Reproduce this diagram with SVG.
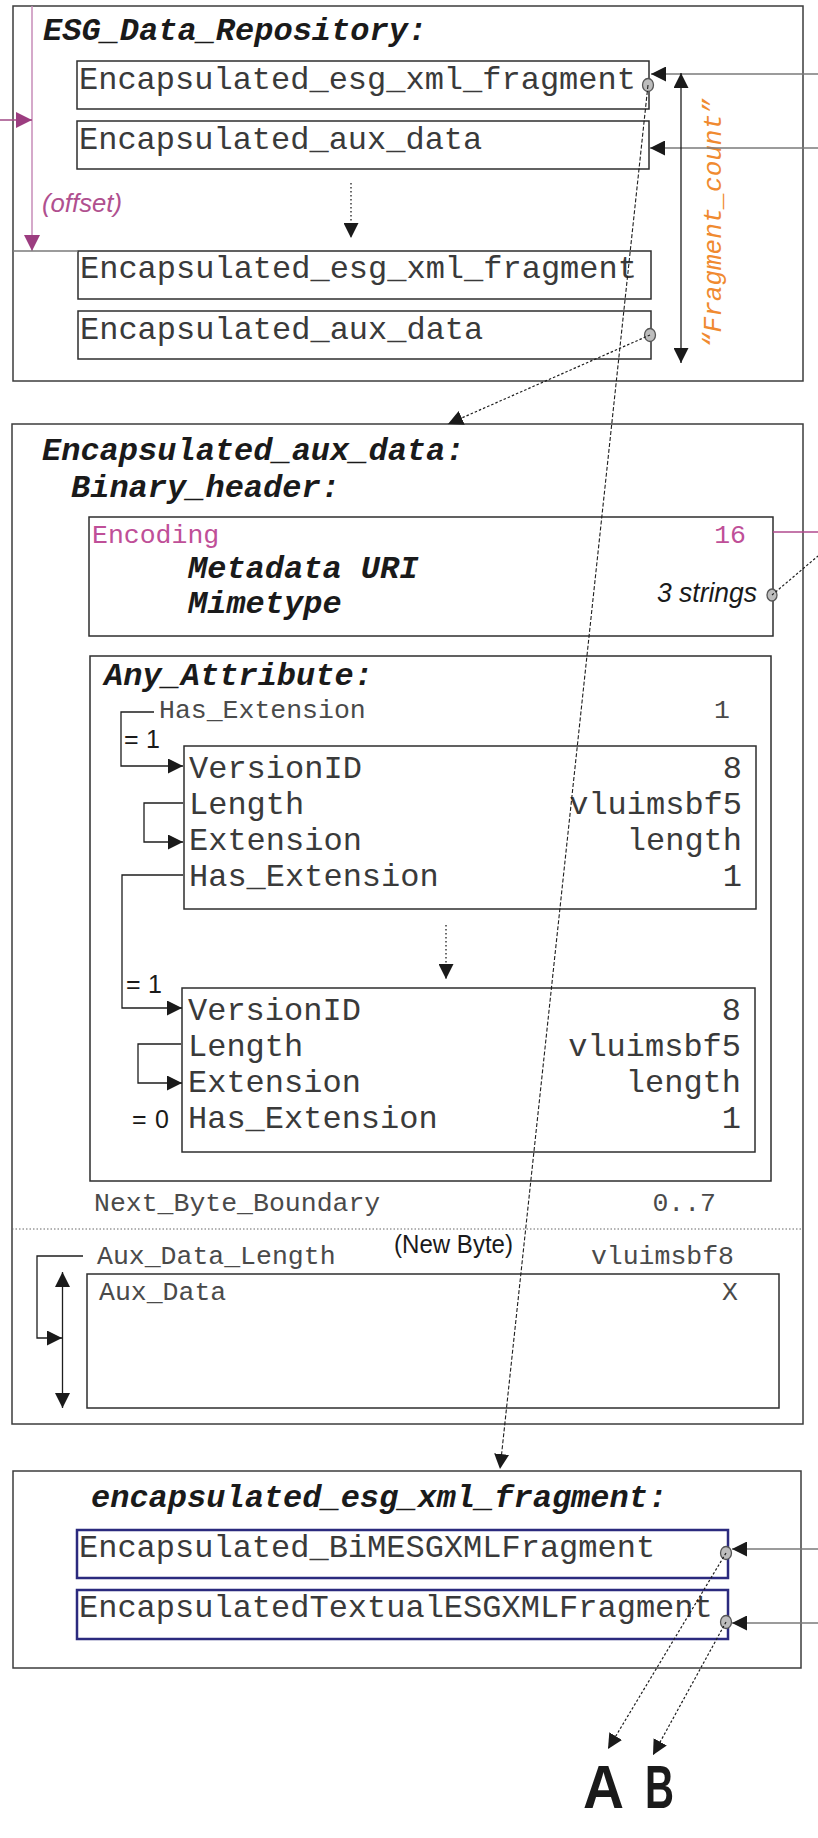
<svg xmlns="http://www.w3.org/2000/svg" width="818" height="1838" viewBox="0 0 818 1838">
<style>
.frame{fill:none;stroke:#3c3c3c;stroke-width:1.5}
.box{fill:none;stroke:#2e2e2e;stroke-width:1.5}
.navy{fill:none;stroke:#2b2a7e;stroke-width:2.5}
.title{font-family:"Liberation Mono","Courier New",monospace;font-weight:bold;font-style:italic;font-size:32px;fill:#1a1a1a}
.m32{font-family:"Liberation Mono","Courier New",monospace;font-size:32px;fill:#3a3a3a}
.m26{font-family:"Liberation Mono","Courier New",monospace;font-size:26.5px;fill:#4a4a4a}
.end{text-anchor:end}
.sans{font-family:"Liberation Sans",Arial,sans-serif;fill:#1a1a1a}
.eq{font-family:"Liberation Sans",Arial,sans-serif;fill:#1a1a1a;font-size:25px}
.purple{fill:#bf4f98}
.conn{fill:none;stroke:#1e1e1e;stroke-width:1.3}
.grey{fill:none;stroke:#7a7a7a;stroke-width:1.5}
.dot{fill:none;stroke:#1e1e1e;stroke-width:1.2;stroke-dasharray:2.5 2}
.dash{fill:none;stroke:#1e1e1e;stroke-width:1.1;stroke-dasharray:4 2}
.pin{fill:#bdbdbd;stroke:#555;stroke-width:1.3}
</style>
<defs>
<marker id="ah" viewBox="0 0 15 15" refX="15" refY="7.5" markerWidth="15" markerHeight="15" markerUnits="userSpaceOnUse" orient="auto-start-reverse">
<path d="M0,0 L15,7.5 L0,15 z" fill="#1a1a1a"/>
</marker>
<marker id="ahp" viewBox="0 0 16 16" refX="16" refY="8" markerWidth="16" markerHeight="16" markerUnits="userSpaceOnUse" orient="auto">
<path d="M0,0 L16,8 L0,16 z" fill="#9c3d80"/>
</marker>
</defs>

<g id="esg_data_repository">
<rect class="frame" x="13" y="6" width="790" height="375"/>
<text class="title" x="43" y="40">ESG_Data_Repository:</text>
<text x="42" y="212" font-family="Liberation Sans,Arial,sans-serif" font-style="italic" font-size="25" fill="#b0508f" textLength="80" lengthAdjust="spacingAndGlyphs">(offset)</text>
<text transform="translate(721,348) rotate(-90)" font-family="Liberation Mono,Courier New,monospace" font-style="italic" font-size="26" fill="#f08a30">“Fragment_count”</text>
</g>

<g id="repo_frag1">
<rect class="box" x="77" y="61" width="572" height="48"/>
<text class="m32" x="79" y="89">Encapsulated_esg_xml_fragment</text>
<ellipse class="pin" cx="648" cy="85" rx="5.5" ry="6.5"/>
</g>
<g id="repo_aux1">
<rect class="box" x="77" y="121" width="572" height="48"/>
<text class="m32" x="79" y="149">Encapsulated_aux_data</text>
</g>
<g id="repo_frag2">
<rect class="box" x="78" y="251" width="573" height="48"/>
<text class="m32" x="80" y="278">Encapsulated_esg_xml_fragment</text>
</g>
<g id="repo_aux2">
<rect class="box" x="78" y="311" width="573" height="48"/>
<text class="m32" x="80" y="339">Encapsulated_aux_data</text>
<ellipse class="pin" cx="650" cy="335" rx="5.5" ry="6.5"/>
</g>

<g id="encapsulated_aux_data">
<rect class="frame" x="12" y="424" width="791" height="1000"/>
<text class="title" x="42" y="460">Encapsulated_aux_data:</text>
<text class="title" x="71" y="497">Binary_header:</text>
<text class="m26" x="94" y="1211">Next_Byte_Boundary</text>
<text class="m26 end" x="716" y="1211">0..7</text>
<text class="sans" x="394" y="1253" font-size="25" textLength="119" lengthAdjust="spacingAndGlyphs">(New Byte)</text>
<text class="m26" x="97" y="1264">Aux_Data_Length</text>
<text class="m26 end" x="734" y="1264">vluimsbf8</text>
</g>

<g id="binary_header">
<rect class="box" x="89" y="517" width="684" height="119"/>
<text class="m26 purple" x="92" y="543">Encoding</text>
<text class="m26 purple end" x="746" y="543">16</text>
<text class="title" x="188" y="578">Metadata URI</text>
<text class="title" x="188" y="613">Mimetype</text>
<text class="sans end" x="757" y="602" font-size="28" font-style="italic" textLength="100" lengthAdjust="spacingAndGlyphs">3 strings</text>
<ellipse class="pin" cx="772" cy="595" rx="5" ry="6"/>
</g>

<g id="any_attribute">
<rect class="box" x="90" y="656" width="681" height="525"/>
<text class="title" x="104" y="685">Any_Attribute:</text>
<text class="m26" x="159" y="718">Has_Extension</text>
<text class="m26 end" x="730" y="718">1</text>
<text class="eq" x="124" y="748" textLength="36" lengthAdjust="spacing">= 1</text>
<text class="eq" x="126" y="993" textLength="36" lengthAdjust="spacing">= 1</text>
<text class="eq" x="132" y="1128" textLength="37" lengthAdjust="spacing">= 0</text>
</g>

<g id="extension_1">
<rect class="box" x="184" y="746" width="572" height="163"/>
<text class="m32" x="189" y="778">VersionID</text>
<text class="m32 end" x="742" y="778">8</text>
<text class="m32" x="189" y="814">Length</text>
<text class="m32 end" x="742" y="814">vluimsbf5</text>
<text class="m32" x="189" y="850">Extension</text>
<text class="m32 end" x="742" y="850">length</text>
<text class="m32" x="189" y="886">Has_Extension</text>
<text class="m32 end" x="742" y="886">1</text>
</g>

<g id="extension_n">
<rect class="box" x="182" y="988" width="573" height="164"/>
<text class="m32" x="188" y="1020">VersionID</text>
<text class="m32 end" x="741" y="1020">8</text>
<text class="m32" x="188" y="1056">Length</text>
<text class="m32 end" x="741" y="1056">vluimsbf5</text>
<text class="m32" x="188" y="1092">Extension</text>
<text class="m32 end" x="741" y="1092">length</text>
<text class="m32" x="188" y="1128">Has_Extension</text>
<text class="m32 end" x="741" y="1128">1</text>
</g>

<g id="aux_data">
<rect class="box" x="87" y="1274" width="692" height="134"/>
<text class="m26" x="99" y="1300">Aux_Data</text>
<text class="m26 end" x="738" y="1300">X</text>
</g>

<g id="encapsulated_esg_xml_fragment">
<rect class="frame" x="13" y="1471" width="788" height="197"/>
<text class="title" x="91" y="1507">encapsulated_esg_xml_fragment:</text>
</g>
<g id="bim_fragment">
<rect class="navy" x="77" y="1530" width="651" height="48"/>
<text class="m32" x="79" y="1557">Encapsulated_BiMESGXMLFragment</text>
<ellipse class="pin" cx="726" cy="1553" rx="5.5" ry="6.5"/>
</g>
<g id="textual_fragment">
<rect class="navy" x="77" y="1590" width="651" height="49"/>
<text class="m32" x="79" y="1617">EncapsulatedTextualESGXMLFragment</text>
<ellipse class="pin" cx="726" cy="1622" rx="5.5" ry="6.5"/>
</g>

<g id="label_A">
<text class="sans" x="583" y="1808" font-size="62" font-weight="bold" textLength="41" lengthAdjust="spacingAndGlyphs">A</text>
</g>
<g id="label_B">
<text class="sans" x="645" y="1808" font-size="62" font-weight="bold" textLength="29" lengthAdjust="spacingAndGlyphs">B</text>
</g>

<g id="connectors">
<line x1="32" y1="6" x2="32" y2="251" stroke="#c78cb9" stroke-width="1.5" marker-end="url(#ahp)"/>
<line x1="0" y1="120" x2="32" y2="120" stroke="#a04a86" stroke-width="1.5" marker-end="url(#ahp)"/>
<line class="grey" x1="13" y1="251" x2="78" y2="251" stroke="#555"/>
<line class="grey" x1="818" y1="74" x2="651" y2="74" marker-end="url(#ah)"/>
<line class="grey" x1="818" y1="148" x2="650" y2="148" marker-end="url(#ah)"/>
<line class="conn" x1="681" y1="73" x2="681" y2="363" marker-start="url(#ah)" marker-end="url(#ah)"/>
<line class="conn" x1="351" y1="183" x2="351" y2="238" stroke-dasharray="1.5 2.5" marker-end="url(#ah)"/>
<line class="dot" x1="650" y1="335" x2="448" y2="424" marker-end="url(#ah)"/>
<line class="dash" x1="648" y1="85" x2="500" y2="1469" marker-end="url(#ah)"/>
<line x1="773" y1="532" x2="818" y2="532" stroke="#b04a8e" stroke-width="1.5"/>
<line class="dot" x1="772" y1="595" x2="818" y2="556"/>
<polyline class="conn" points="154,712 121,712 121,766 183,766" marker-end="url(#ah)"/>
<polyline class="conn" points="183,803 144,803 144,842 183,842" marker-end="url(#ah)"/>
<polyline class="conn" points="183,875 122,875 122,1008 182,1008" marker-end="url(#ah)"/>
<line class="conn" x1="446" y1="925" x2="446" y2="979" stroke-dasharray="1.5 2.5" marker-end="url(#ah)"/>
<polyline class="conn" points="181,1044 138,1044 138,1083 182,1083" marker-end="url(#ah)"/>
<line x1="12" y1="1229" x2="803" y2="1229" stroke="#666" stroke-width="1" stroke-dasharray="1.5 2"/>
<polyline class="conn" points="83,1256 37,1256 37,1338 62,1338" marker-end="url(#ah)"/>
<line class="conn" x1="62.5" y1="1272" x2="62.5" y2="1408" marker-start="url(#ah)" marker-end="url(#ah)"/>
<line class="grey" x1="818" y1="1549" x2="732" y2="1549" marker-end="url(#ah)"/>
<line class="grey" x1="818" y1="1623" x2="732" y2="1623" marker-end="url(#ah)"/>
<line class="dot" x1="726" y1="1553" x2="608" y2="1749" marker-end="url(#ah)"/>
<line class="dot" x1="726" y1="1622" x2="653" y2="1755" marker-end="url(#ah)"/>
</g>
</svg>
